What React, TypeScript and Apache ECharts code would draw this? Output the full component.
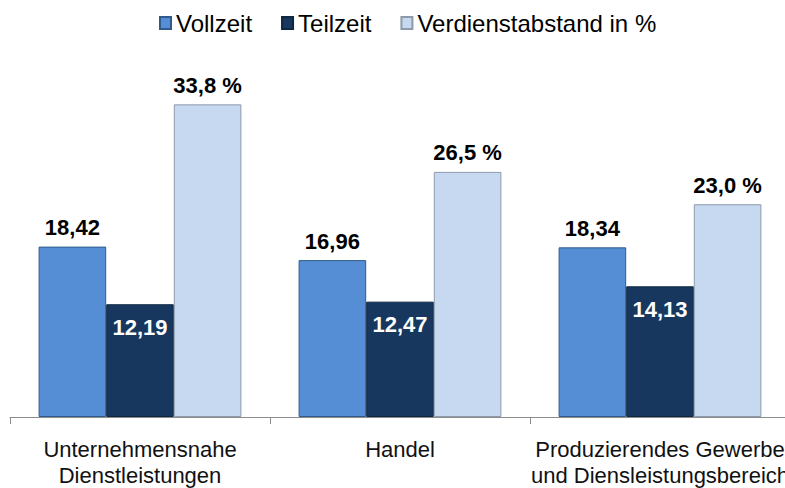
import React, { useEffect, useRef } from "react";
import * as echarts from "echarts";

const categories = [
  "Unternehmensnahe\nDienstleistungen",
  "Handel",
  "Produzierendes Gewerbe\nund Diensleistungsbereich",
];
const vollzeit = [18.42, 16.96, 18.34];
const teilzeit = [12.19, 12.47, 14.13];
const abstand = [33.8, 26.5, 23.0];

const fmt2 = (v: number) => v.toFixed(2).replace(".", ",");
const fmt1 = (v: number) => v.toFixed(1).replace(".", ",") + " %";

export default function App() {
  const ref = useRef<HTMLDivElement>(null);
  useEffect(() => {
    if (!ref.current) return;
    const chart = echarts.init(ref.current, undefined, { renderer: "svg" });
    const font = "Liberation Sans, Arial, sans-serif";
    chart.setOption({
      animation: false,
      backgroundColor: "#ffffff",
      legend: {
        left: 154,
        top: 6,
        itemWidth: 11,
        itemHeight: 12,
        itemGap: 29,
        icon: "rect",
        textStyle: { fontFamily: font, fontSize: 24, color: "#000" },
        data: ["Vollzeit", "Teilzeit", "Verdienstabstand in %"],
      },
      grid: { left: 10, right: 10, top: 47, bottom: 67, containLabel: false },
      xAxis: {
        type: "category",
        data: categories,
        axisLine: { lineStyle: { color: "#8c8c8c", width: 1 } },
        axisTick: { show: true, length: 7, lineStyle: { color: "#8c8c8c" } },
        axisLabel: {
          fontFamily: font,
          fontSize: 22,
          color: "#111",
          lineHeight: 26,
          margin: 19,
          interval: 0,
        },
      },
      yAxis: {
        type: "value",
        min: 0,
        max: 40,
        show: false,
        splitLine: { show: false },
      },
      series: [
        {
          name: "Vollzeit",
          type: "bar",
          data: vollzeit,
          barGap: "0%",
          barCategoryGap: "22%",
          itemStyle: { color: "#558ed5", borderColor: "#2f5a8a", borderWidth: 1 },
          label: {
            show: true,
            position: "top",
            distance: 8,
            formatter: (p: any) => fmt2(p.value),
            fontFamily: font,
            fontSize: 22,
            fontWeight: "bold",
            color: "#000",
          },
        },
        {
          name: "Teilzeit",
          type: "bar",
          data: teilzeit,
          itemStyle: { color: "#17375e", borderColor: "#0e2640", borderWidth: 1 },
          label: {
            show: true,
            position: "insideTop",
            distance: 12,
            formatter: (p: any) => fmt2(p.value),
            fontFamily: font,
            fontSize: 22,
            fontWeight: "bold",
            color: "#fff",
          },
        },
        {
          name: "Verdienstabstand in %",
          type: "bar",
          data: abstand,
          itemStyle: { color: "#c6d9f1", borderColor: "#8d9aaa", borderWidth: 1 },
          label: {
            show: true,
            position: "top",
            distance: 8,
            formatter: (p: any) => fmt1(p.value),
            fontFamily: font,
            fontSize: 22,
            fontWeight: "bold",
            color: "#000",
          },
        },
      ],
    });
    return () => chart.dispose();
  }, []);
  return (
    <div
      style={{
        position: "fixed",
        left: 0,
        top: 0,
        width: 785,
        height: 488,
        overflow: "hidden",
        background: "#fff",
      }}
    >
      <div ref={ref} style={{ width: 800, height: 488 }} />
    </div>
  );
}
